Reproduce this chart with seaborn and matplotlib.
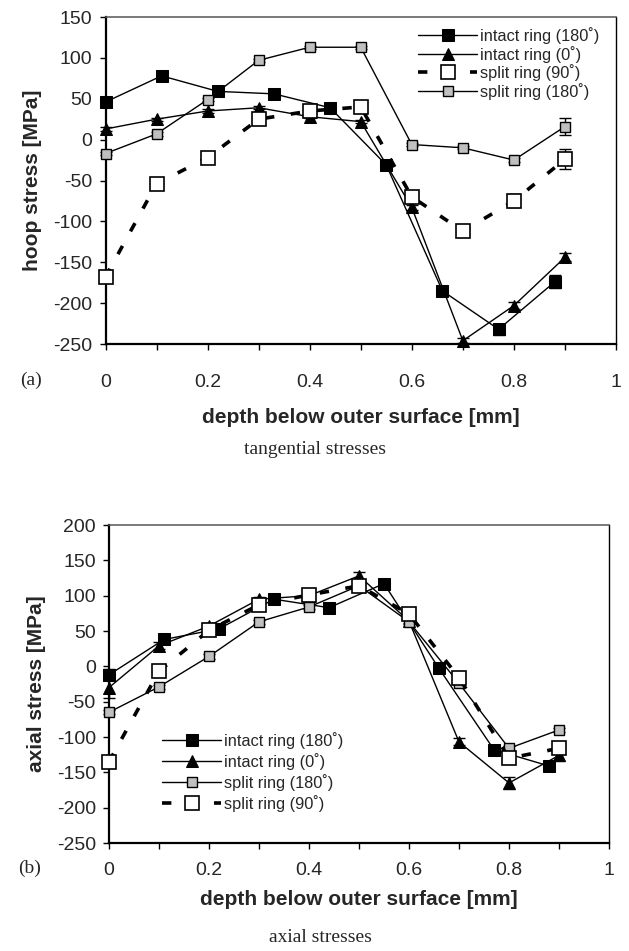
import numpy as np
import pandas as pd
import matplotlib
matplotlib.use("Agg")
import matplotlib.pyplot as plt
import seaborn as sns

# ---------------- data: (a) tangential / hoop stresses ----------------
a_x_i180 = [0.0, 0.11, 0.22, 0.33, 0.44, 0.55, 0.66, 0.77, 0.88]
a_y_i180 = [46, 78, 59, 56, 39, -31, -185, -232, -174]
a_e_i180 = [6, 6, 3, 3, 3, 3, 3, 7, 8]

a_x_i0 = [0.0, 0.1, 0.2, 0.3, 0.4, 0.5, 0.6, 0.7, 0.8, 0.9]
a_y_i0 = [13, 25, 35, 39, 28, 22, -83, -246, -203, -144]
a_e_i0 = [2, 2, 2, 2, 2, 2, 3, 3, 4, 5]

a_x_s90 = [0.0, 0.1, 0.2, 0.3, 0.4, 0.5, 0.6, 0.7, 0.8, 0.9]
a_y_s90 = [-168, -54, -22, 25, 35, 40, -70, -112, -75, -24]
a_e_s90 = [3, 3, 3, 3, 3, 3, 3, 3, 8, 12]

a_x_s180 = [0.0, 0.1, 0.2, 0.3, 0.4, 0.5, 0.6, 0.7, 0.8, 0.9]
a_y_s180 = [-17, 7, 49, 97, 113, 113, -6, -10, -25, 16]
a_e_s180 = [2, 2, 2, 2, 2, 2, 2, 2, 2, 10]

# ---------------- data: (b) axial stresses ----------------
b_x_i180 = [0.0, 0.11, 0.22, 0.33, 0.44, 0.55, 0.66, 0.77, 0.88]
b_y_i180 = [-12, 38, 53, 95, 83, 117, -3, -118, -141]
b_e_i180 = [8, 3, 3, 3, 3, 3, 3, 3, 3]

b_x_i0 = [0.0, 0.1, 0.2, 0.3, 0.4, 0.5, 0.6, 0.7, 0.8, 0.9]
b_y_i0 = [-30, 29, 57, 95, 100, 128, 64, -107, -165, -126]
b_e_i0 = [15, 5, 5, 3, 3, 5, 3, 5, 8, 8]

b_x_s180 = [0.0, 0.1, 0.2, 0.3, 0.4, 0.5, 0.6, 0.7, 0.8, 0.9]
b_y_s180 = [-65, -29, 14, 63, 84, 114, 63, -24, -116, -90]
b_e_s180 = [3, 3, 3, 3, 3, 3, 3, 3, 3, 3]

b_x_s90 = [0.0, 0.1, 0.2, 0.3, 0.4, 0.5, 0.6, 0.7, 0.8, 0.9]
b_y_s90 = [-135, -7, 51, 87, 101, 114, 74, -16, -130, -116]
b_e_s90 = [3, 3, 3, 3, 3, 3, 3, 3, 3, 3]

lab_i180 = "intact ring (180˚)"
lab_i0 = "intact ring (0˚)"
lab_s90 = "split ring (90˚)"
lab_s180 = "split ring (180˚)"

a_yticks = list(range(-250, 151, 50))
b_yticks = list(range(-250, 201, 50))
x_major = [0, 0.2, 0.4, 0.6, 0.8, 1.0]
x_major_lbl = ["0", "0.2", "0.4", "0.6", "0.8", "1"]
x_minor = [0.1, 0.3, 0.5, 0.7, 0.9]

# ---------------- style ----------------
sns.set_style("ticks")
plt.rcParams['font.family'] = ['Liberation Sans', 'DejaVu Sans']
SANS = ['Liberation Sans', 'DejaVu Sans']
NARROW = ['Liberation Sans Narrow', 'Liberation Sans', 'DejaVu Sans']
SERIF = ['Liberation Serif', 'DejaVu Serif']

W, H = 629, 951
fig = plt.figure(figsize=(W / 100, H / 100), dpi=100)

def px_axes(l, t, r, b):
    return fig.add_axes([l / W, 1 - b / H, (r - l) / W, (b - t) / H])

ax1 = px_axes(105.5, 17, 616, 344)
ax2 = px_axes(109, 525, 609, 843)

STYLES = {
    "i180": dict(marker="s", markersize=9, markerfacecolor="black",
                 markeredgecolor="black", color="black", linewidth=1.0,
                 linestyle="-"),
    "i0": dict(marker="^", markersize=8, markerfacecolor="black",
               markeredgecolor="black", color="black", linewidth=1.0,
               linestyle="-"),
    "s90": dict(marker="s", markersize=10, markerfacecolor="white",
                markeredgecolor="black", markeredgewidth=1.2, color="black",
                linewidth=2.6, linestyle=(0, (2.6, 4.6))),
    "s180": dict(marker="s", markersize=7, markerfacecolor="#c0c0c0",
                 markeredgecolor="black", markeredgewidth=1.0, color="black",
                 linewidth=1.0, linestyle="-"),
}


def draw(ax, key, xs, ys, es, label, z):
    df = pd.DataFrame({"depth": xs, "stress": ys})
    eb = ax.errorbar(xs, ys, yerr=es, fmt="none", ecolor="black",
                     elinewidth=1.0, capsize=4, capthick=1.0, zorder=z - 0.5)
    for art in eb.lines[1] + eb.lines[2]:
        art.set_clip_on(False)
    sns.lineplot(data=df, x="depth", y="stress", ax=ax, estimator=None,
                 sort=False, label=label, legend=False, zorder=z,
                 clip_on=False, **STYLES[key])
    return ax.lines[-1]


def style_axes(ax, yticks, ylabel, ylims, xpad, xlabpad):
    ax.set_xlim(0, 1)
    ax.set_ylim(*ylims)
    ax.set_xticks(x_major)
    ax.set_xticklabels(x_major_lbl)
    ax.set_xticks(x_minor, minor=True)
    ax.set_yticks(yticks)
    ax.set_yticklabels([str(v) for v in yticks])
    ax.tick_params(axis="both", which="both", direction="out", length=4.5,
                   width=1.0, color="black", labelsize=14)
    ax.tick_params(axis="x", which="both", pad=xpad)
    ax.tick_params(axis="y", pad=5)
    for s in ["left", "bottom"]:
        ax.spines[s].set_linewidth(1.6)
        ax.spines[s].set_color("black")
    ax.spines["top"].set_linewidth(1.1)
    ax.spines["top"].set_color("#555555")
    ax.spines["right"].set_linewidth(1.0)
    ax.spines["right"].set_color("black")
    for t in ax.get_xticklabels() + ax.get_yticklabels():
        t.set_family(SANS)
    ax.set_xlabel("depth below outer surface [mm]", fontsize=15,
                  fontweight="bold", family=SANS, labelpad=xlabpad)
    ax.set_ylabel(ylabel, fontsize=15, fontweight="bold", family=SANS,
                  labelpad=8)
    ax.grid(False)


LEG_FONT = dict(family=NARROW, size=11.8)

# ---------------- panel (a) ----------------
h0 = draw(ax1, "i0", a_x_i0, a_y_i0, a_e_i0, lab_i0, 3)
h1 = draw(ax1, "i180", a_x_i180, a_y_i180, a_e_i180, lab_i180, 4)
h3 = draw(ax1, "s180", a_x_s180, a_y_s180, a_e_s180, lab_s180, 5)
h2 = draw(ax1, "s90", a_x_s90, a_y_s90, a_e_s90, lab_s90, 6)
style_axes(ax1, a_yticks, "hoop stress [MPa]", (-250, 150), 17, 12)
leg1 = ax1.legend(handles=[h1, h0, h2, h3], labels=[lab_i180, lab_i0, lab_s90, lab_s180],
                  loc="upper left", bbox_to_anchor=(418 / W, 1 - 27 / H),
                  bbox_transform=fig.transFigure, frameon=False,
                  prop=LEG_FONT, handlelength=3.6,
                  handletextpad=0.2, labelspacing=0.1, borderpad=0,
                  borderaxespad=0)

# ---------------- panel (b) ----------------
g0 = draw(ax2, "i0", b_x_i0, b_y_i0, b_e_i0, lab_i0, 3)
g1 = draw(ax2, "i180", b_x_i180, b_y_i180, b_e_i180, lab_i180, 4)
g3 = draw(ax2, "s180", b_x_s180, b_y_s180, b_e_s180, lab_s180, 5)
g2 = draw(ax2, "s90", b_x_s90, b_y_s90, b_e_s90, lab_s90, 6)
style_axes(ax2, b_yticks, "axial stress [MPa]", (-250, 200), 9, 8)
leg2 = ax2.legend(handles=[g1, g0, g3, g2], labels=[lab_i180, lab_i0, lab_s180, lab_s90],
                  loc="upper left", bbox_to_anchor=(162 / W, 1 - 732 / H),
                  bbox_transform=fig.transFigure, frameon=False,
                  prop=LEG_FONT, handlelength=3.6,
                  handletextpad=0.2, labelspacing=0.25, borderpad=0,
                  borderaxespad=0)

# ---------------- captions ----------------
fig.text(20 / W, 1 - 380 / H, "(a)", family=SERIF, fontsize=14, va="center", ha="left")
fig.text(315 / W, 1 - 450 / H, "tangential stresses", family=SERIF, fontsize=14,
         va="center", ha="center")
fig.text(18 / W, 1 - 868 / H, "(b)", family=SERIF, fontsize=14, va="center", ha="left")
fig.text(320 / W, 1 - 938 / H, "axial stresses", family=SERIF, fontsize=14,
         va="center", ha="center")

fig.savefig("out.png", dpi=100, facecolor="white")
